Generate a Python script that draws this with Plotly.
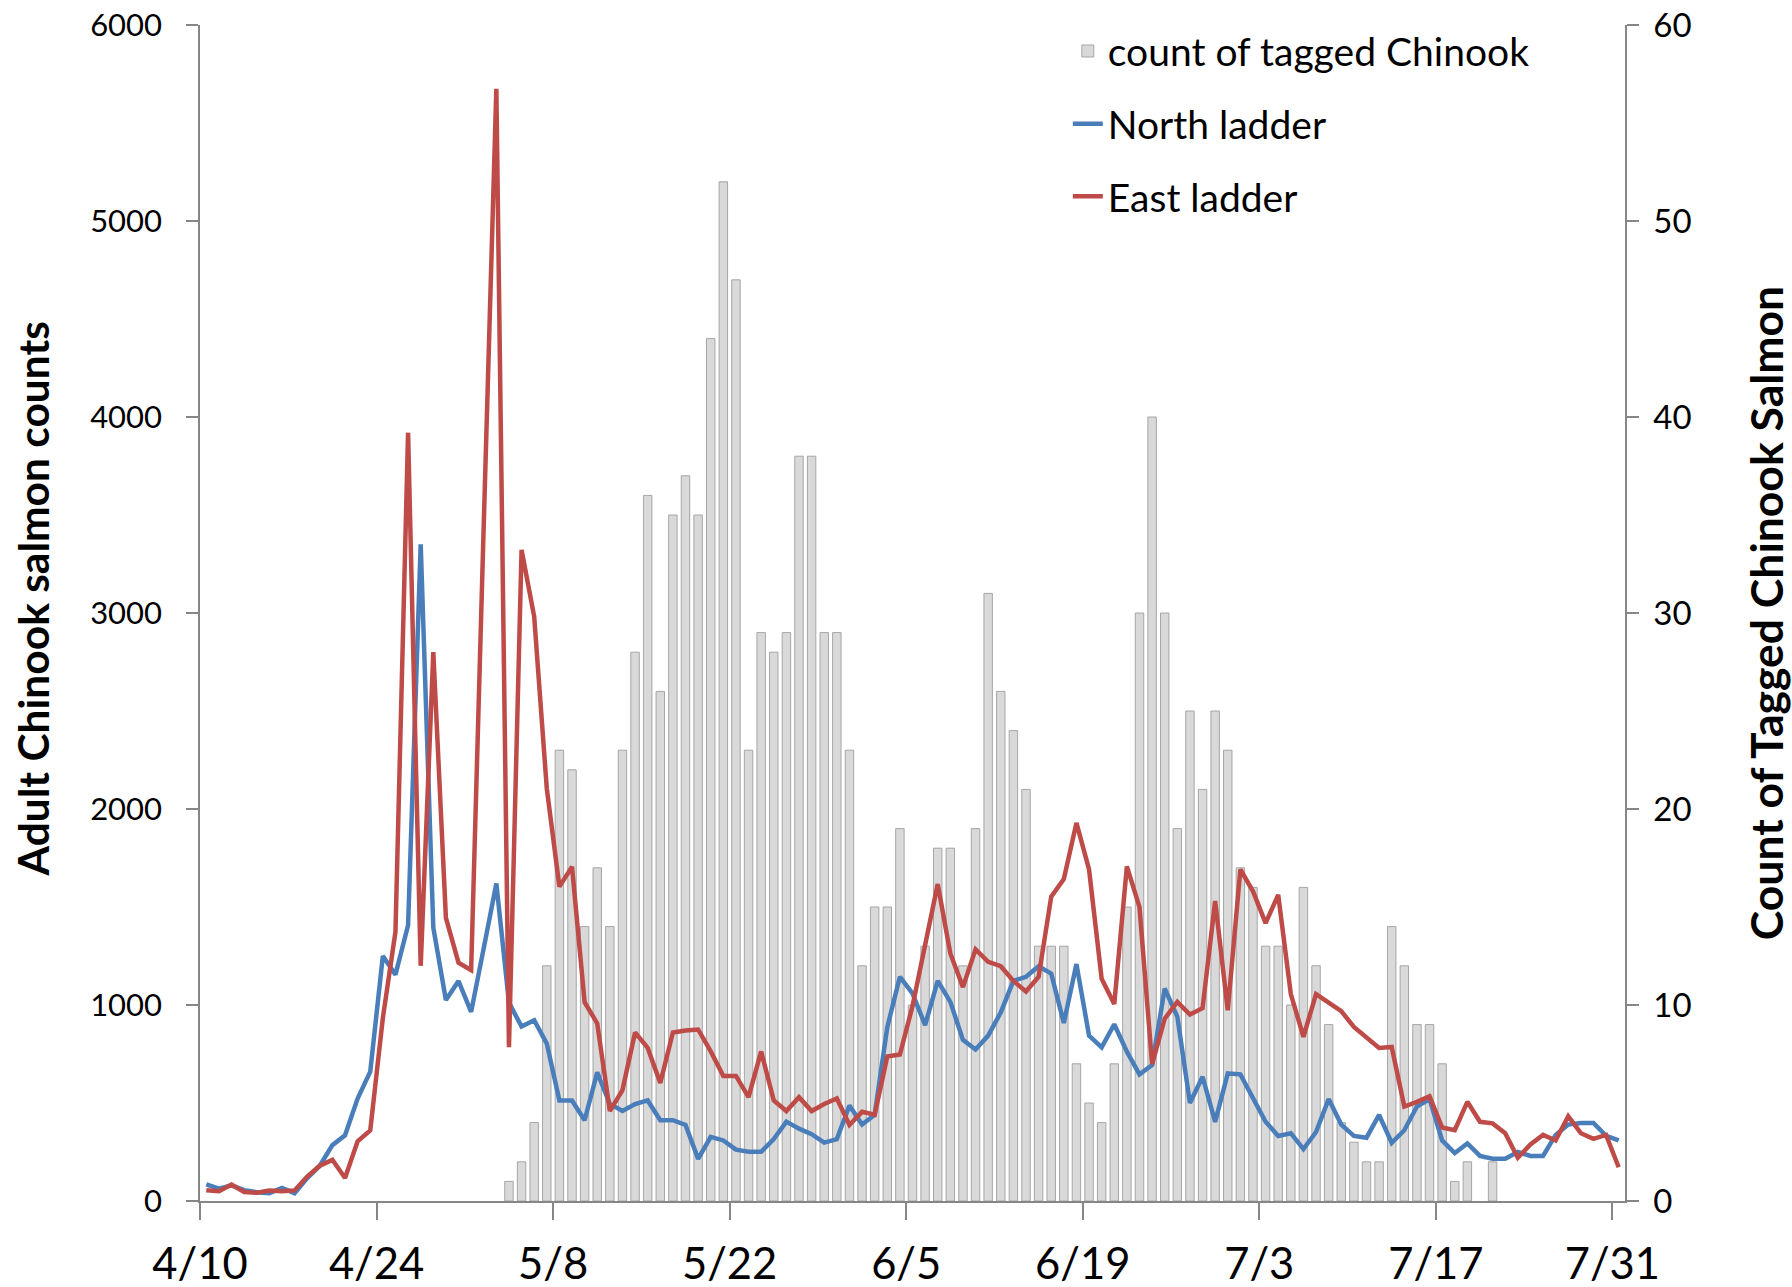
import pandas as pd
import plotly.graph_objects as go

# Daily categories, 4/10 .. 7/31
dates = pd.date_range("2013-04-10", "2013-07-31", freq="D")

tick_labels = ["4/10", "4/24", "5/8", "5/22", "6/5", "6/19", "7/3", "7/17", "7/31"]

north_ladder = [
    85, 63, 80, 55, 45, 40, 67, 40, 117, 180, 285, 335, 523, 660, 1250, 1155, 1407, 3350, 1395, 1025,
    1122, 965, 1290, 1620, 1012, 890, 922, 803, 513, 513, 412, 656, 495, 459, 495, 513, 412, 412, 388, 215,
    327, 309, 262, 251, 251, 316, 405, 369, 341, 298, 316, 487, 390, 440, 887, 1144, 1059, 897, 1123, 1016,
    822, 773, 844, 962, 1123, 1144, 1198, 1160, 908, 1209, 844, 784, 902, 762, 646, 694, 1084, 941, 500, 634,
    404, 651, 646, 530, 404, 332, 346, 265, 352, 520, 390, 332, 323, 439, 297, 361, 482, 520, 309, 245,
    294, 230, 216, 216, 250, 230, 230, 337, 390, 398, 398, 332, 309,
]

east_ladder = [
    55, 50, 84, 46, 42, 54, 50, 54, 125, 180, 210, 117, 305, 360, 934, 1373, 3920, 1200, 2800, 1444,
    1216, 1178, 3450, 5675, 785, 3322, 2982, 2105, 1604, 1705, 1014, 906, 459, 566, 860, 781, 602, 860, 870, 875,
    763, 638, 638, 530, 763, 513, 459, 530, 459, 495, 523, 388, 455, 440, 737, 747, 994, 1306, 1617, 1263,
    1091, 1284, 1220, 1198, 1123, 1069, 1144, 1553, 1643, 1929, 1692, 1134, 1005, 1707, 1499, 698, 930, 1016, 951, 984,
    1531, 973, 1692, 1580, 1418, 1562, 1056, 838, 1056, 1012, 969, 888, 838, 781, 786, 482, 506, 534, 375, 361,
    506, 404, 396, 346, 221, 288, 337, 309, 433, 346, 317, 337, 172,
]

tagged_chinook = [
    0, 0, 0, 0, 0, 0, 0, 0, 0, 0, 0, 0, 0, 0, 0, 0, 0, 0, 0, 0,
    0, 0, 0, 0, 1, 2, 4, 12, 23, 22, 14, 17, 14, 23, 28, 36, 26, 35, 37, 35,
    44, 52, 47, 23, 29, 28, 29, 38, 38, 29, 29, 23, 12, 15, 15, 19, 10, 13, 18, 18,
    12, 19, 31, 26, 24, 21, 13, 13, 13, 7, 5, 4, 7, 15, 30, 40, 30, 19, 25, 21,
    25, 23, 17, 16, 13, 13, 10, 16, 12, 9, 4, 3, 2, 2, 14, 12, 9, 9, 7, 1,
    2, 0, 2, 0, 0, 0, 0, 0, 0, 0, 0, 0, 0,
]

left_ticks = [0, 1000, 2000, 3000, 4000, 5000, 6000]
right_ticks = [0, 10, 20, 30, 40, 50, 60]

FONT = "Lato"
AXIS = "#868686"
half_day = pd.Timedelta(hours=12)
tick_positions = [dates[0] + pd.Timedelta(days=14 * i) - half_day for i in range(len(tick_labels))]

fig = go.Figure()
fig.add_trace(go.Bar(
    x=dates, y=[v if v else None for v in tagged_chinook],
    name="count of tagged Chinook", yaxis="y", legendgroup="a",
    marker=dict(color="#D9D9D9", line=dict(color="#A6A6A6", width=1)),
))
fig.add_trace(go.Scatter(
    x=dates, y=north_ladder, mode="lines", name="North ladder", yaxis="y2", legendgroup="b",
    line=dict(color="#4A7EBB", width=4.5),
))
fig.add_trace(go.Scatter(
    x=dates, y=east_ladder, mode="lines", name="East ladder", yaxis="y2", legendgroup="c",
    line=dict(color="#BE4B48", width=4.5),
))

fig.update_layout(
    width=1792, height=1287,
    margin=dict(l=200, r=167, t=25, b=86, autoexpand=False),
    paper_bgcolor="white", plot_bgcolor="white",
    font=dict(family=FONT, color="black"),
    bargap=0.33,
    showlegend=True,
    legend=dict(
        x=0.609, y=1.005, xanchor="left", yanchor="top",
        font=dict(family=FONT, size=39, color="black"),
        bgcolor="rgba(0,0,0,0)", tracegroupgap=19, traceorder="grouped",
    ),
    xaxis=dict(
        type="date", automargin=False,
        range=[dates[0] - half_day, dates[-1] + half_day],
        tickvals=tick_positions, ticktext=tick_labels,
        ticks="outside", ticklen=17, tickwidth=1.5, tickcolor=AXIS,
        showline=True, linecolor=AXIS, linewidth=1.5,
        showgrid=False, zeroline=False,
        tickfont=dict(family=FONT, size=43.5, color="black"),
        ticklabelstandoff=7,
    ),
    yaxis=dict(
        side="right", range=[0, 60], tickvals=right_ticks, automargin=False,
        ticks="outside", ticklen=12, tickwidth=1.5, tickcolor=AXIS,
        showline=True, linecolor=AXIS, linewidth=1.5,
        showgrid=False, zeroline=False,
        tickfont=dict(family=FONT, size=33, color="black"),
        ticklabelstandoff=8,
        title=dict(text="<b>Count of Tagged Chinook Salmon</b>",
                   font=dict(family=FONT, size=44.5, color="black"), standoff=62),
    ),
    yaxis2=dict(
        overlaying="y", side="left", range=[0, 6000], tickvals=left_ticks, automargin=False,
        ticks="outside", ticklen=12, tickwidth=1.5, tickcolor=AXIS,
        showline=True, linecolor=AXIS, linewidth=1.5,
        showgrid=False, zeroline=False,
        tickfont=dict(family=FONT, size=31, color="black"),
        ticklabelstandoff=18,
        title=dict(text="<b>\u00a0\u00a0\u00a0Adult Chinook salmon counts</b>",
                   font=dict(family=FONT, size=42.5, color="black"), standoff=27),
    ),
)

# the page's default 8px body margin would shift the fixed-size figure
fig.write_html(
    "out.html",
    config={"displayModeBar": False},
    post_script="document.body.style.margin='0';",
)
